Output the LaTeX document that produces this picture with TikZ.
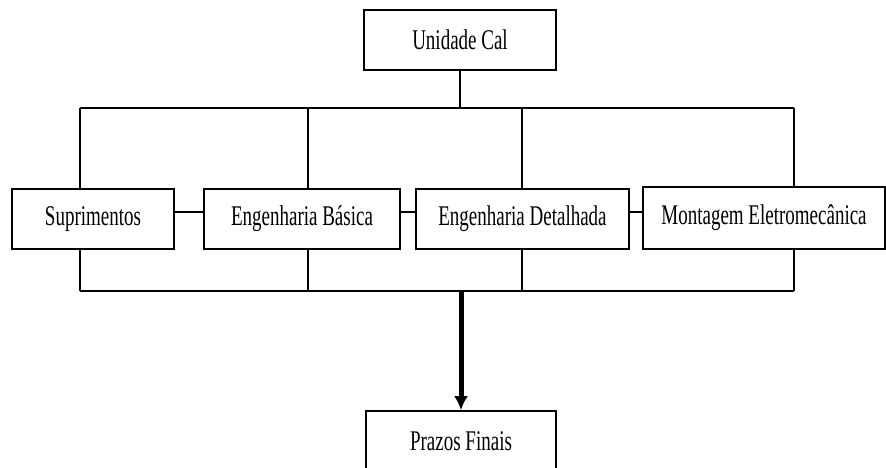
\documentclass[tikz,border=0pt]{standalone}
\usepackage{fontspec}
\setmainfont{Liberation Serif}
\usepackage{graphicx}
\usetikzlibrary{arrows.meta}
\usetikzlibrary{positioning}
\newcommand{\tallt}[1]{\scalebox{1}[1.5]{#1}}
\tikzset{
	unit/.style={draw, line width=1.7pt, minimum height=60pt, inner sep=0pt,
		font=\fontsize{19}{22}\selectfont},
	bus/.style={line width=1.7pt},
	flow/.style={line width=5pt, -{Latex[length=14pt,width=14pt]}}
}
\begin{document}
\begin{tikzpicture}[x=1pt, y=-1pt]
		\useasboundingbox (0,0) rectangle (886,468);
		\node[unit, minimum width=192pt] (cal) at (460,40) {\tallt{Unidade Cal}};
		\node[unit, minimum width=162pt] (sup) at (93,219) {\tallt{Suprimentos}};
		\node[unit, minimum width=196pt] (eb) at (302,219) {\tallt{Engenharia Básica}};
		\node[unit, minimum width=213pt] (ed) at (522.5,219) {\tallt{Engenharia Detalhada}};
		\node[unit, minimum width=242pt, minimum height=62pt] (mont) at (764,218) {\tallt{Montagem Eletromecânica}};
		\node[unit, minimum width=190pt] (prz) at (461,441) {\tallt{Prazos Finais}};
		% barramentos
		\coordinate (ta) at (80,108);
		\coordinate (tb) at (308,108);
		\coordinate (tc) at (522,108);
		\coordinate (td) at (794,108);
		\coordinate (ba) at (80,291);
		\coordinate (bb) at (308,291);
		\coordinate (bc) at (522,291);
		\coordinate (bd) at (794,291);
		\draw[bus] (cal.south) -- (cal.south |- ta);
		\draw[bus] (ta) -- (td);
		\draw[bus] (ta) -- (ta |- sup.north);
		\draw[bus] (tb) -- (tb |- eb.north);
		\draw[bus] (tc) -- (tc |- ed.north);
		\draw[bus] (td) -- (td |- mont.north);
		\draw[bus] (ba) -- (bd);
		\draw[bus] (ba) -- (ba |- sup.south);
		\draw[bus] (bb) -- (bb |- eb.south);
		\draw[bus] (bc) -- (bc |- ed.south);
		\draw[bus] (bd) -- (bd |- mont.south);
		\draw[bus] ([yshift=7pt]sup.east) -- ([yshift=7pt]sup.east -| eb.west);
		\draw[bus] ([yshift=7pt]eb.east) -- ([yshift=7pt]eb.east -| ed.west);
		\draw[bus] ([yshift=7pt]ed.east) -- ([yshift=7pt]ed.east -| mont.west);
		\draw[flow] (prz.north |- ba) -- (prz.north);
	\end{tikzpicture}
\end{document}
